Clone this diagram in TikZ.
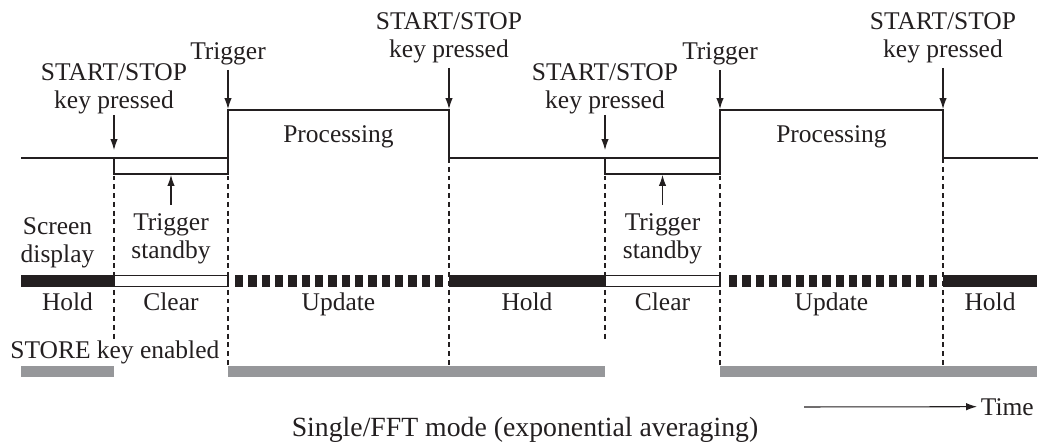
\documentclass[tikz,border=0pt]{standalone}
\usepackage{fontspec}
\setmainfont{Liberation Serif}
\usepackage{xcolor}
\usepackage{tikz}
\usetikzlibrary{arrows.meta, positioning}
\definecolor{ink}{RGB}{35,31,32}
\definecolor{storegray}{RGB}{150,151,154}

\begin{document}
\begin{tikzpicture}[x=0.02cm, y=-0.02cm, color=ink,
    lbl/.style     ={align=center, inner sep=0.5pt, font=\fontsize{14.5}{16}\selectfont},
    sig/.style     ={line width=1.2pt},
    ptr/.style     ={-{Latex[length=2.2mm, width=1.5mm]}, line width=0.6pt},
    guide/.style   ={line width=0.6pt, dash pattern=on 2.8pt off 2.2pt},
    holdbar/.style ={fill=ink, draw=none},
    clearbar/.style={fill=white, draw=ink, line width=0.6pt},
    updbar/.style  ={line width=0.24cm, dash pattern=on 0.166cm off 0.1007cm},
    storebar/.style={fill=storegray, draw=none}
]
\useasboundingbox (0,0) rectangle (1041,442);
\def\kA{114}\def\tA{228}\def\kB{449}\def\kC{605}\def\tB{720}\def\kD{943}
\def\base{158}\def\high{110}
% --- guide lines (behind the bars) ---
\draw[guide] (\kA,\base) -- (\kA,340);
\draw[guide] (\tA,\base) -- (\tA,365);
\draw[guide] (\kB,\base) -- (\kB,365);
\draw[guide] (\kC,\base) -- (\kC,340);
\draw[guide] (\tB,\base) -- (\tB,365);
\draw[guide] (\kD,\base) -- (\kD,365);

% --- processing signal ---
\draw[sig] (21,\base) -- (\tA,\base) -- (\tA,\high) -- (\kB,\high) -- (\kB,\base)
   -- (\tB,\base) -- (\tB,\high) -- (\kD,\high) -- (\kD,\base) -- (1038,\base);
\node[lbl, anchor=base] (procA) at (338.5,143) {Processing};
\node[lbl, anchor=base] (procB) at (831.5,143) {Processing};

% --- events above the signal ---
\coordinate (hitA) at (\kA,150);
\coordinate (hitB) at (\tA,109);
\coordinate (hitC) at (\kB,109);
\coordinate (hitD) at (\kC,150);
\coordinate (hitE) at (\tB,109);
\coordinate (hitF) at (\kD,109);
\node[lbl, anchor=south] (ssA) at (\kA,115) {START/STOP\\key pressed};
\node[lbl, anchor=south, inner sep=2.5pt] (trgA) at (\tA,70) {Trigger};
\node[lbl, anchor=south, inner sep=2.5pt] (ssB) at (\kB,68) {START/STOP\\key pressed};
\node[lbl, anchor=south] (ssC) at (\kC,115) {START/STOP\\key pressed};
\node[lbl, anchor=south, inner sep=2.5pt] (trgB) at (\tB,70) {Trigger};
\node[lbl, anchor=south, inner sep=2.5pt] (ssD) at (\kD,68) {START/STOP\\key pressed};
\draw[ptr] (ssA.south) -- (hitA);
\draw[ptr] (trgA.south) -- (hitB);
\draw[ptr] (ssB.south) -- (hitC);
\draw[ptr] (ssC.south) -- (hitD);
\draw[ptr] (trgB.south) -- (hitE);
\draw[ptr] (ssD.south) -- (hitF);

% --- trigger standby brackets ---
\draw[line width=0.6pt] (\kA,163) -- (\kA,174) -- (\tA,174) -- (\tA,163);
\draw[line width=0.6pt] (\kC,163) -- (\kC,174) -- (\tB,174) -- (\tB,163);
\coordinate (brA) at (171,175);
\coordinate (brB) at (662.5,175);
\node[lbl, anchor=north, inner sep=4.5pt] (stbA) at (171,205) {Trigger\\standby};
\node[lbl, anchor=north, inner sep=4.5pt] (stbB) at (662.5,205) {Trigger\\standby};
\draw[ptr] (stbA.north) -- (brA);
\draw[ptr] (stbB.north) -- (brB);

% --- screen display bar ---
\node[lbl, anchor=north, inner sep=0pt] (scr) at (57.5,217) {Screen\\display};
\fill[holdbar] (21,275) rectangle (\kA,287);
\draw[clearbar] (\kA,275.3) rectangle (\tA,286.7);
\draw[updbar] (235,281) -- (443.3,281);
\fill[holdbar] (\kB,275) rectangle (\kC,287);
\draw[clearbar] (\kC,275.3) rectangle (\tB,286.7);
\draw[updbar] (729,281) -- (937.3,281);
\fill[holdbar] (\kD,275) rectangle (1037,287);
\node[lbl, anchor=base] (holdA) at (67.5,310) {Hold};
\node[lbl, anchor=base] (clrA) at (171,310) {Clear};
\node[lbl, anchor=base] (updA) at (338.5,310) {Update};
\node[lbl, anchor=base] (holdB) at (527,310) {Hold};
\node[lbl, anchor=base] (clrB) at (662.5,310) {Clear};
\node[lbl, anchor=base] (updB) at (831.5,310) {Update};
\node[lbl, anchor=base] (holdC) at (990,310) {Hold};

% --- STORE key bar ---
\node[lbl, anchor=base west, inner sep=0pt] (store) at (10,358) {STORE key enabled};
\fill[storebar] (21,366) rectangle (\kA,377);
\fill[storebar] (\tA,366) rectangle (\kC,377);
\fill[storebar] (\tB,366) rectangle (1037,377);

% --- time axis and caption ---
\coordinate (tfrom) at (804,407);
\node[lbl, anchor=base west, inner sep=2pt] (time) at (977,415) {Time};
\draw[ptr] (tfrom) -- (time.west);
\node[font=\fontsize{15.8}{18}\selectfont, anchor=base, inner sep=0pt] (cap) at (525,436) {Single/FFT mode (exponential averaging)};
\end{tikzpicture}
\end{document}
